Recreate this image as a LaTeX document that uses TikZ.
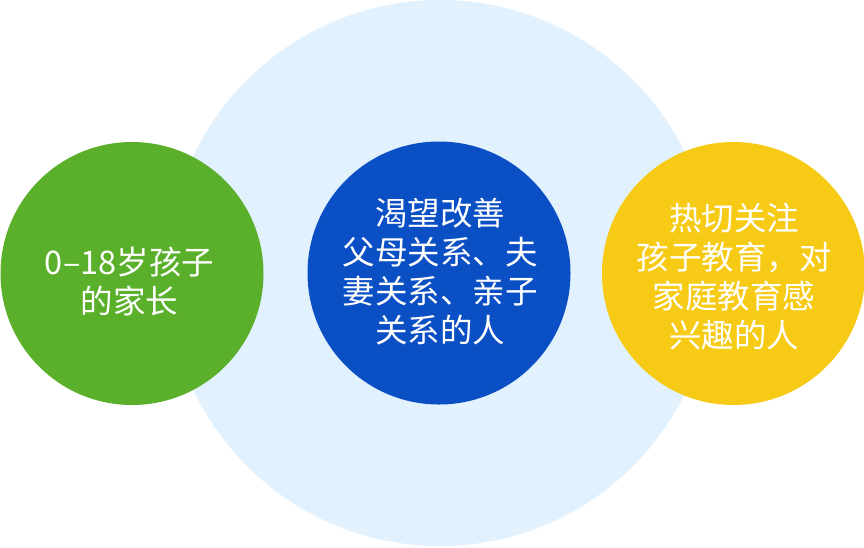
\documentclass[tikz,border=0pt]{standalone}
\usepackage{fontspec}
\setmainfont{Noto Sans CJK SC}
\usepackage{xcolor}
\usetikzlibrary{positioning}
\definecolor{haloblue}{HTML}{E1F1FD}
\definecolor{parentgreen}{HTML}{5AB02A}
\definecolor{coupleblue}{HTML}{0B4FC5}
\definecolor{eduyellow}{HTML}{F6CA15}

\begin{document}
\begin{tikzpicture}[x=1pt,y=-1pt,
  bubble/.style={circle,inner sep=0pt,minimum size=263pt},
  bubbletext/.style={text=white,align=center,inner sep=0pt,font=\fontsize{32.5}{39}\selectfont}]
\useasboundingbox (0,0) rectangle (864,547);
% Background circle
\node[circle,inner sep=0pt,minimum size=546pt,fill=haloblue] (halo) at (440,273) {};
% Parents of children
\node[bubble,fill=parentgreen] (parents) at (132,273.5) {};
\node[bubbletext] (parentstext) at (129.5,281.7) {0–18岁孩子\\的家长};
% Couple and family relations
\node[bubble,fill=coupleblue] (couple) at (439,273) {};
\node[bubbletext] (coupletext) at (440,271.5) {渴望改善\\父母关系、夫\\妻关系、亲子\\关系的人};
% Family education
\node[bubble,fill=eduyellow] (edu) at (733.5,273.5) {};
\node[bubbletext] (edutext) at (734,276.5) {热切关注\\孩子教育，对\\家庭教育感\\兴趣的人};
\end{tikzpicture}
\end{document}
